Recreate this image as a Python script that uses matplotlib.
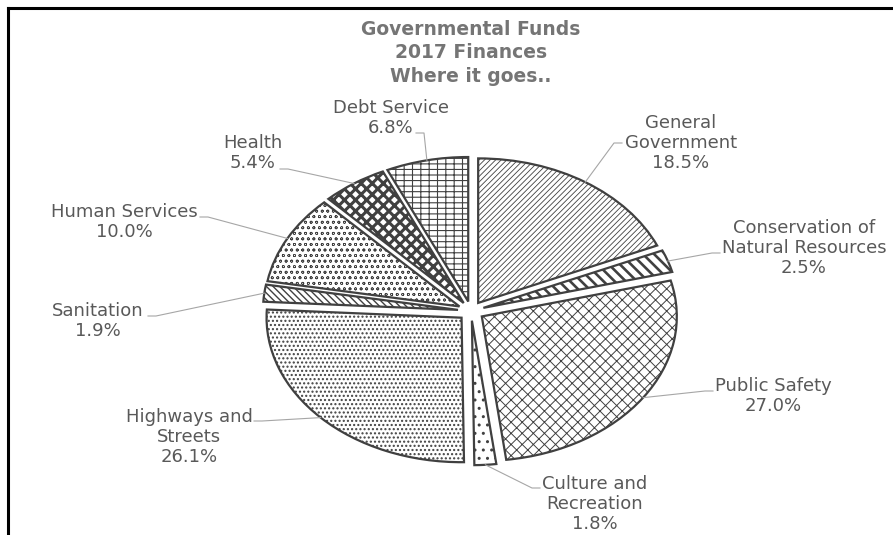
import numpy as np
import matplotlib.pyplot as plt
from matplotlib.lines import Line2D

# Chart data
categories = ["General\nGovernment", "Conservation of\nNatural Resources", "Public Safety",
              "Culture and\nRecreation", "Highways and\nStreets", "Sanitation",
              "Human Services", "Health", "Debt Service"]
shares = [18.5, 2.5, 27.0, 1.8, 26.1, 1.9, 10.0, 5.4, 6.8]

# Pattern fill for each slice
hatches = ["//////", "\\\\\\", "xxx", "..", "....", "\\\\\\\\\\", "ooo", "xxx", "---||"]
hatch_widths = [0.6, 1.9, 0.7, 1.0, 1.0, 1.0, 0.5, 2.2, 0.8]

# Label centres and leader stub ends (pixels from top-left)
label_pos = [(681, 143), (804, 248), (773, 396), (595, 504), (189, 437),
             (98, 321), (124, 222), (253, 153), (391, 118)]
stub_pos = [(622, 143), (720, 253), (713, 391), (540, 488), (254, 421),
            (148, 316), (200, 217), (280, 169), (416, 133)]

W, H = 893, 535
cx, cy = 471, 311
rx, ry = 195, 144.5


# Pixel position -> data position of the pie axes
def to_data(x, y):
    return (x - cx) / rx, (cy - y) / ry


fig = plt.figure(figsize=(W / 100, H / 100), dpi=100)
ax = fig.add_axes([0, 0, 1, 1])

wedges, _ = ax.pie(shares, startangle=90, counterclock=False,
                   explode=[0.067] * len(shares), radius=1,
                   wedgeprops=dict(facecolor="white", edgecolor="#404040", linewidth=1.6))
for w, h, hw in zip(wedges, hatches, hatch_widths):
    w.set_hatch(h)
    if hasattr(w, "set_hatch_linewidth"):
        w.set_hatch_linewidth(hw)

ax.set_aspect("auto")
ax.set_xlim(-cx / rx, (W - cx) / rx)
ax.set_ylim(-(H - cy) / ry, cy / ry)
ax.axis("off")

# Labels with leader lines
for w, name, val, lp, sp in zip(wedges, categories, shares, label_pos, stub_pos):
    mid = np.deg2rad((w.theta1 + w.theta2) / 2)
    px = w.center[0] + w.r * np.cos(mid)
    py = w.center[1] + w.r * np.sin(mid)
    sx, sy = to_data(*sp)
    if sp[0] < cx:
        ex, ey = to_data(sp[0] + 8, sp[1])
    else:
        ex, ey = to_data(sp[0] - 8, sp[1])
    ax.plot([px, ex, sx], [py, ey, sy], color="#a6a6a6", lw=0.8)
    tx, ty = to_data(*lp)
    ax.text(tx, ty, f"{name}\n{val:.1f}%", ha="center", va="center",
            fontsize=13, color="#595959", linespacing=1.17, family="DejaVu Sans")

# Title
fig.text(471 / W, 1 - 20 / H, "Governmental Funds\n2017 Finances\nWhere it goes..",
         ha="center", va="top", fontsize=13.5, fontweight="bold", color="#757575",
         linespacing=1.3, family="DejaVu Sans")

# Chart frame (cropped at right and bottom)
fig.add_artist(Line2D([8 / W, 1], [1 - 8 / H, 1 - 8 / H], transform=fig.transFigure,
                      color="black", lw=2.2))
fig.add_artist(Line2D([8 / W, 8 / W], [0, 1 - 8 / H], transform=fig.transFigure,
                      color="black", lw=2.2))

fig.savefig("out.png", dpi=100)
